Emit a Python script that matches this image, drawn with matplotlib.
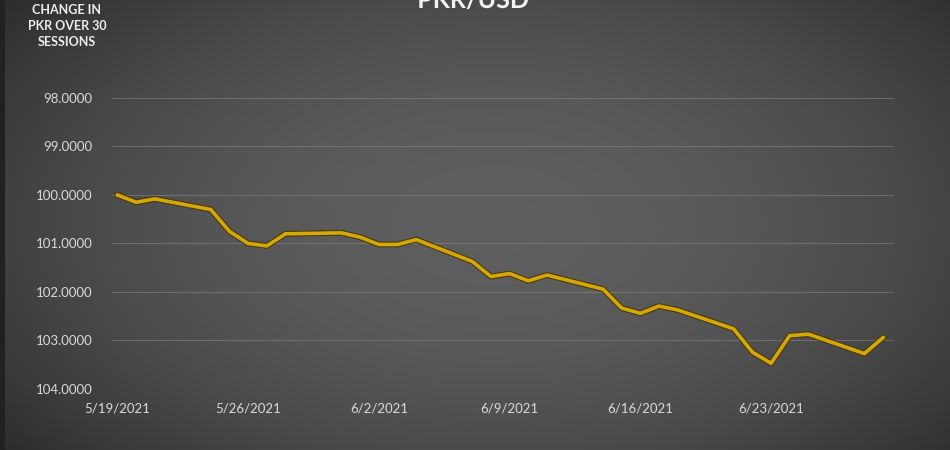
import numpy as np
import pandas as pd
import matplotlib
matplotlib.use("Agg")
import matplotlib.pyplot as plt
import matplotlib.dates as mdates
import matplotlib.patheffects as pe

# PKR per USD, 30 trading sessions
dates = ["2021-05-19", "2021-05-20", "2021-05-21", "2021-05-24", "2021-05-25",
         "2021-05-26", "2021-05-27", "2021-05-28", "2021-05-31", "2021-06-01",
         "2021-06-02", "2021-06-03", "2021-06-04", "2021-06-07", "2021-06-08",
         "2021-06-09", "2021-06-10", "2021-06-11", "2021-06-14", "2021-06-15",
         "2021-06-16", "2021-06-17", "2021-06-18", "2021-06-21", "2021-06-22",
         "2021-06-23", "2021-06-24", "2021-06-25", "2021-06-28", "2021-06-29"]
pkr = [100.00, 100.15, 100.08, 100.30, 100.75,
       101.00, 101.05, 100.80, 100.78, 100.87,
       101.02, 101.02, 100.92, 101.37, 101.68,
       101.62, 101.77, 101.65, 101.94, 102.33,
       102.44, 102.29, 102.37, 102.76, 103.24,
       103.47, 102.90, 102.87, 103.27, 102.94]
yticks = [98, 99, 100, 101, 102, 103, 104]
xtick_dates = ["2021-05-19", "2021-05-26", "2021-06-02", "2021-06-09",
               "2021-06-16", "2021-06-23"]

d = pd.to_datetime(dates)

fig = plt.figure(figsize=(9.5, 4.5), dpi=100)

# radial dark-grey background
bg = fig.add_axes([0, 0, 1, 1])
xx, yy = np.meshgrid(np.linspace(0, 1, 950), np.linspace(0, 1, 450))
r = np.sqrt(((xx - 0.52) / 0.62) ** 2 + ((yy - 0.5) / 0.75) ** 2)
shade = np.clip(0.37 - 0.17 * r ** 2, 0.15, 0.4)
shade[:, :5] = 0.13
bg.imshow(np.dstack([shade] * 3), aspect="auto", extent=[0, 1, 0, 1], origin="lower")
bg.axis("off")

ax = fig.add_axes([112 / 950, 61 / 450, 782 / 950, 291 / 450])
ax.patch.set_alpha(0)

ax.plot(d, pkr, color="#D4A80A", lw=2.6, solid_joinstyle="round",
        path_effects=[pe.Stroke(linewidth=4.2, foreground="#4a3a08"), pe.Normal()],
        zorder=3)

ax.set_ylim(104, 98)
ax.set_yticks(yticks)
ax.yaxis.set_major_formatter(matplotlib.ticker.FormatStrFormatter("%.4f"))
ax.set_xlim(d[0] - pd.Timedelta(hours=7), d[-1] + pd.Timedelta(hours=14))
ax.set_xticks(pd.to_datetime(xtick_dates))
ax.xaxis.set_major_formatter(
    matplotlib.ticker.FuncFormatter(lambda v, p: "{0.month}/{0.day}/{0.year}".format(mdates.num2date(v))))

ax.grid(axis="y", color="#8c8c8c", lw=0.7, alpha=0.55)
ax.set_axisbelow(True)
for s in ax.spines.values():
    s.set_visible(False)
ax.tick_params(length=0, colors="#d9d9d9", labelsize=9.5)
ax.tick_params(axis="y", pad=14)
ax.tick_params(axis="x", pad=10)
for lab in ax.get_xticklabels() + ax.get_yticklabels():
    lab.set_family("Lato")

# title sits partly above the top edge, as in the source image
fig.text(0.498, 1 - 8 / 450, "PKR/USD", ha="center", va="baseline", color="#f2f2f2",
         fontsize=18, fontweight="bold", family="Lato",
         path_effects=[pe.withSimplePatchShadow(offset=(1.5, -1.5), alpha=0.6)])
fig.text(67 / 950, 1 - 26 / 450, "CHANGE IN\nPKR OVER 30\nSESSIONS", ha="center", va="center",
         color="#ececec", fontsize=9, fontweight="bold", family="Lato", linespacing=1.35)

fig.savefig("out.png", dpi=100)
